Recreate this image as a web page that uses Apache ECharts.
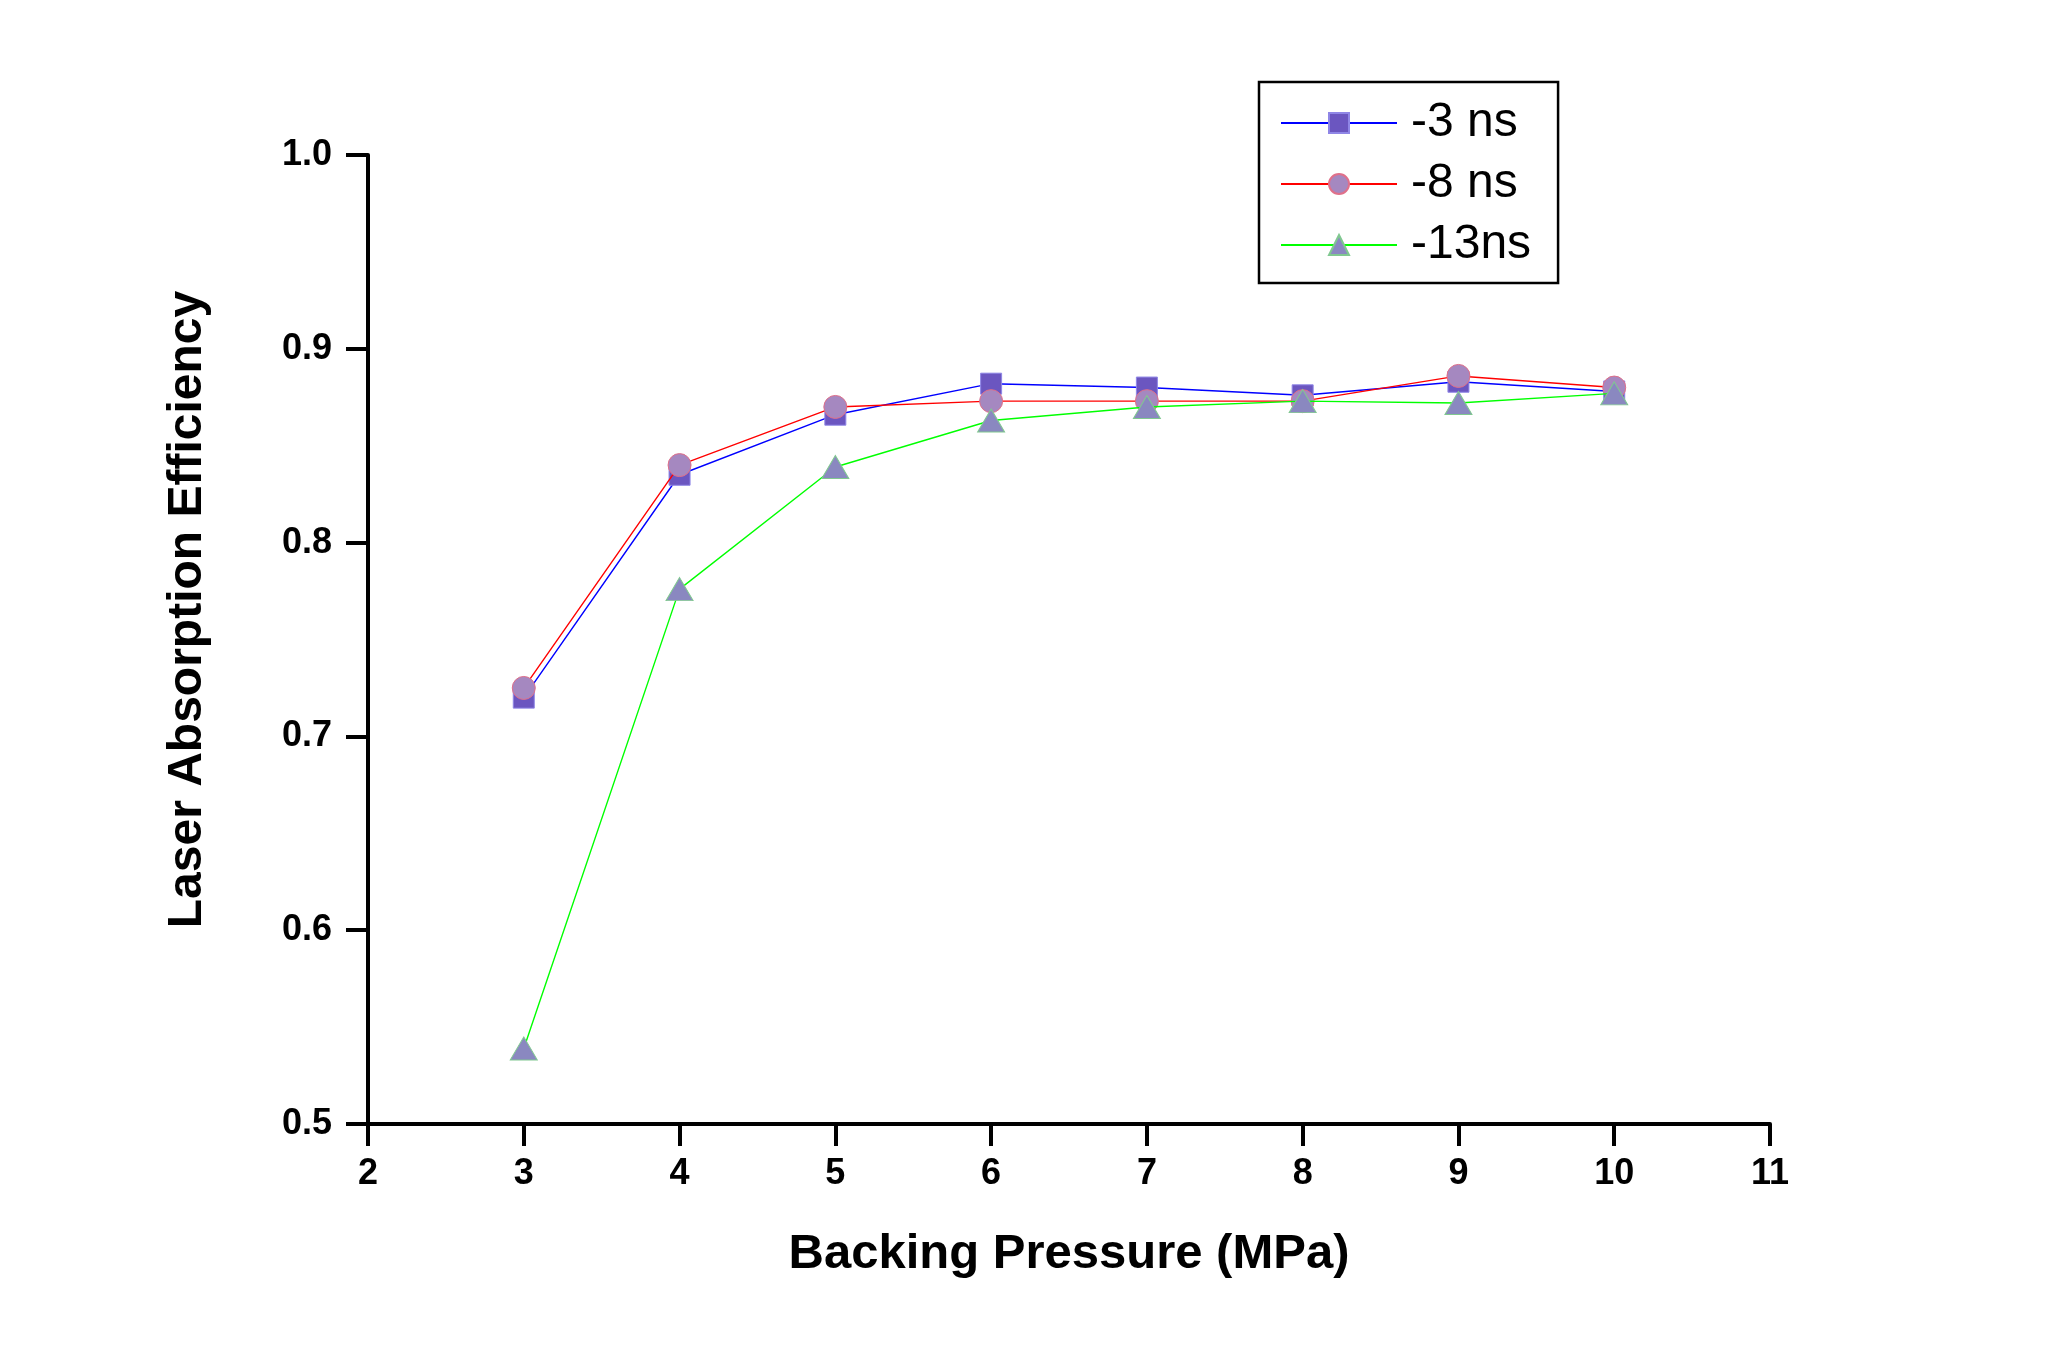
<!DOCTYPE html>
<html>
<head>
<meta charset="utf-8">
<style>
  html, body { margin: 0; padding: 0; background: #ffffff; }
  #chart { width: 2056px; height: 1350px; }
</style>
<script src="https://cdn.jsdelivr.net/npm/echarts@6/dist/echarts.min.js"></script>
</head>
<body>
<div id="chart"></div>
<script>
const pressure = [3, 4, 5, 6, 7, 8, 9, 10];
const ns3 = [0.720, 0.835, 0.866, 0.882, 0.880, 0.876, 0.883, 0.878];
const ns8 = [0.725, 0.840, 0.870, 0.873, 0.873, 0.873, 0.886, 0.880];
const ns13 = [0.539, 0.776, 0.839, 0.863, 0.870, 0.873, 0.872, 0.877];
const seriesNames = ['-3 ns', '-8 ns', '-13ns'];
const xTitle = 'Backing Pressure (MPa)';
const yTitle = 'Laser Absorption Efficiency';

const font = '"Liberation Sans", Arial, sans-serif';
const pair = (arr) => pressure.map((x, i) => [x, arr[i]]);

const chart = echarts.init(document.getElementById('chart'), null, { renderer: 'canvas' });
const axisCommon = {
  axisLine: { show: true, lineStyle: { color: '#000', width: 4 } },
  axisTick: { show: true, inside: false, length: 22, lineStyle: { color: '#000', width: 4 } },
  splitLine: { show: false },
  nameLocation: 'middle'
};
chart.setOption({
  animation: false,
  backgroundColor: '#ffffff',
  grid: { left: 368, right: 286, top: 155, bottom: 226, containLabel: false },
  xAxis: Object.assign({}, axisCommon, {
    type: 'value', min: 2, max: 11, interval: 1,
    name: xTitle, nameGap: 106,
    nameTextStyle: { fontFamily: font, fontWeight: 'bold', fontSize: 49, color: '#000' },
    axisLabel: { fontFamily: font, fontWeight: 'bold', fontSize: 36, color: '#000', margin: 32 }
  }),
  yAxis: Object.assign({}, axisCommon, {
    type: 'value', min: 0.5, max: 1.0, interval: 0.1,
    name: yTitle, nameGap: 156,
    nameTextStyle: { fontFamily: font, fontWeight: 'bold', fontSize: 48, color: '#000', padding: [0, 0, 0, 60] },
    axisLabel: { fontFamily: font, fontWeight: 'bold', fontSize: 36, color: '#000', margin: 36,
      formatter: (v) => v.toFixed(1) }
  }),
  legend: {
    left: 1259, top: 82,
    orient: 'vertical',
    backgroundColor: '#fff',
    borderColor: '#000', borderWidth: 2.5,
    padding: [17, 27, 14, 21],
    itemWidth: 116, itemHeight: 25, itemGap: 13,
    textStyle: { fontFamily: font, fontSize: 48, color: '#000', lineHeight: 45, padding: [0, 0, 0, 9] },
    data: seriesNames
  },
  series: [
    {
      name: seriesNames[0], type: 'line', data: pair(ns3),
      symbol: 'rect', symbolSize: 21,
      lineStyle: { color: '#0000ff', width: 1.4 },
      itemStyle: { color: '#6b56c0', borderColor: '#8f86e6', borderWidth: 1 },
      z: 2
    },
    {
      name: seriesNames[1], type: 'line', data: pair(ns8),
      symbol: 'circle', symbolSize: 23,
      lineStyle: { color: '#ff0000', width: 1.4 },
      itemStyle: { color: '#a588c0', borderColor: '#e0708a', borderWidth: 1 },
      z: 3
    },
    {
      name: seriesNames[2], type: 'line', data: pair(ns13),
      symbol: 'triangle', symbolSize: [27, 23],
      lineStyle: { color: '#00ff00', width: 1.4 },
      itemStyle: { color: '#8a88c0', borderColor: '#80c890', borderWidth: 1 },
      z: 4
    }
  ]
});
</script>
</body>
</html>
